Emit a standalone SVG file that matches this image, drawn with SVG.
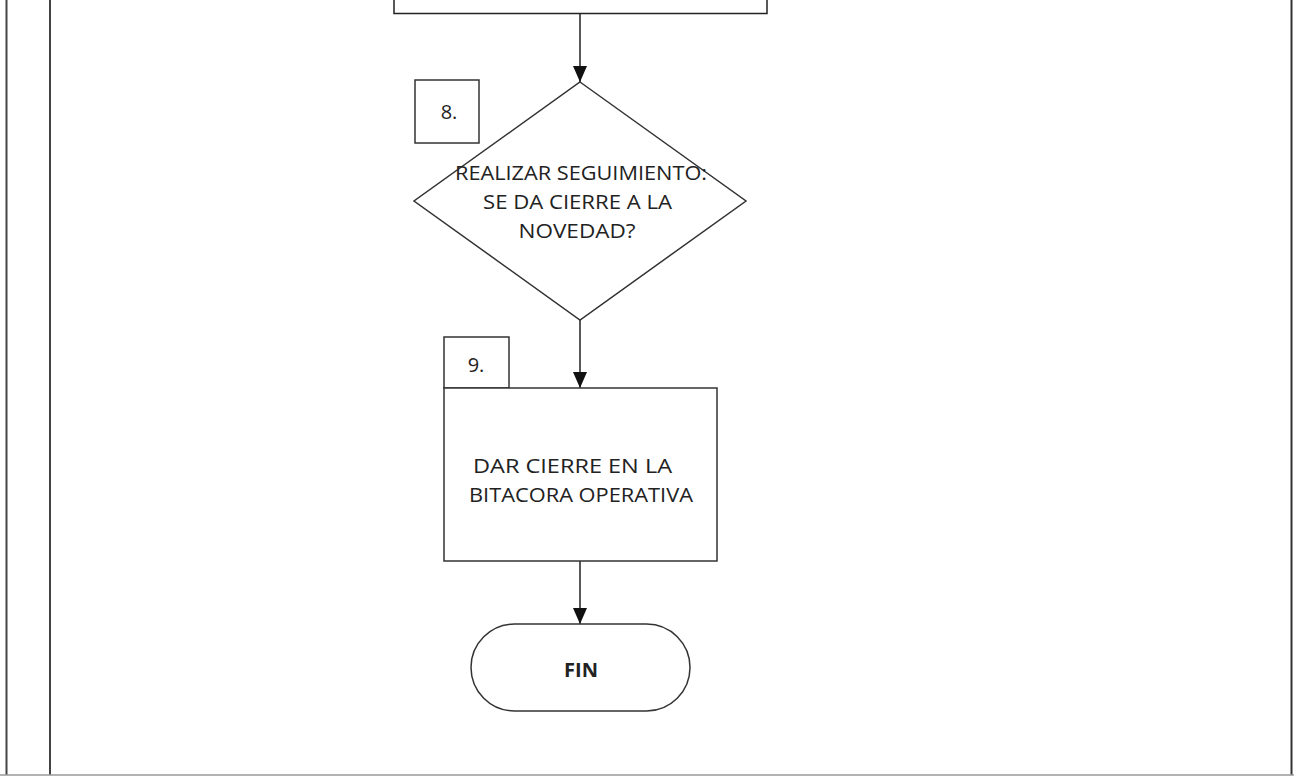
<svg xmlns="http://www.w3.org/2000/svg" width="1294" height="776" viewBox="0 0 1294 776">
<style>
.s{fill:#fff;stroke:#333;stroke-width:1.5}
.l{fill:none;stroke:#222;stroke-width:1.5}
.t{font-family:"Open Sans","Liberation Sans",sans-serif;font-size:20px;fill:#222;text-anchor:middle}
.b{font-weight:bold}
</style>
<defs>
<marker id="a" viewBox="0 0 16 14" refX="16" refY="7" markerWidth="16" markerHeight="14" markerUnits="userSpaceOnUse" orient="auto">
<path d="M0,0 L16,7 L0,14 Z" fill="#111"/>
</marker>
</defs>
<rect width="1294" height="776" fill="#fff"/>
<g id="frame">
<line x1="6.5" y1="0" x2="6.5" y2="775" stroke="#444" stroke-width="2"/>
<line x1="50" y1="0" x2="50" y2="775" stroke="#444" stroke-width="2"/>
<line x1="1291.5" y1="0" x2="1291.5" y2="775" stroke="#333" stroke-width="2"/>
<line x1="0" y1="775" x2="1294" y2="775" stroke="#999" stroke-width="1.5"/>
</g>
<g id="prev">
<path class="l" d="M394,0 V13.5 H767 V0" stroke="#555"/>
</g>
<g id="connectors">
<line class="l" x1="580" y1="14" x2="580" y2="82" marker-end="url(#a)"/>
<line class="l" x1="580" y1="320" x2="580" y2="388" marker-end="url(#a)"/>
<line class="l" x1="580" y1="561" x2="580" y2="624" marker-end="url(#a)"/>
</g>
<g id="n8">
<polygon class="s" points="580,82 746,201 580,320 414,201"/>
<rect class="s" x="415" y="80" width="64" height="63"/>
<text class="t" x="449" y="119">8.</text>
<text class="t" x="581" y="180" textLength="252" lengthAdjust="spacingAndGlyphs">REALIZAR SEGUIMIENTO:</text>
<text class="t" x="577.5" y="209" textLength="189" lengthAdjust="spacingAndGlyphs">SE DA CIERRE A LA</text>
<text class="t" x="577" y="238" textLength="117" lengthAdjust="spacingAndGlyphs">NOVEDAD?</text>
</g>
<g id="n9">
<rect class="s" x="444" y="337" width="65" height="51"/>
<text class="t" x="476" y="372">9.</text>
<rect class="s" x="444" y="388" width="273" height="173"/>
<text class="t" x="572.5" y="473" textLength="199" lengthAdjust="spacingAndGlyphs">DAR CIERRE EN LA</text>
<text class="t" x="581" y="502" textLength="224" lengthAdjust="spacingAndGlyphs">BITACORA OPERATIVA</text>
</g>
<g id="fin">
<rect class="s" x="471" y="624" width="219" height="87" rx="43.5" ry="43.5"/>
<text class="t b" x="581" y="677" textLength="34" lengthAdjust="spacingAndGlyphs">FIN</text>
</g>
</svg>
